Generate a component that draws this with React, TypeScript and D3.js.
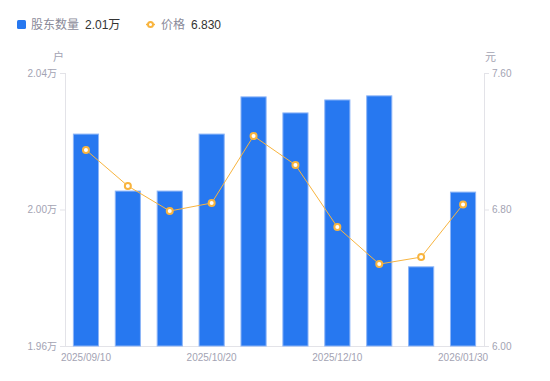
import React from "react";
import * as d3 from "d3";

const categories = [
  "2025/09/10", "2025/09/19", "2025/09/30", "2025/10/20", "2025/10/31",
  "2025/11/20", "2025/12/10", "2025/12/31", "2026/01/20", "2026/01/30",
];
const holders = [2.0221, 2.0054, 2.0054, 2.0221, 2.0330, 2.0283, 2.0321, 2.0333, 1.9832, 2.0051];
const prices = [7.149, 6.938, 6.791, 6.838, 7.231, 7.061, 6.697, 6.480, 6.521, 6.830];
const leftTicks = [1.96, 2.0, 2.04];
const rightTicks = [6.0, 6.8, 7.6];
const shownLabels = ["2025/09/10", "2025/10/20", "2025/12/10", "2026/01/30"];

const W = 550, H = 381;
const M = { left: 65, right: 484, top: 73, bottom: 346 };
const FONT = "'Liberation Sans', Arial, 'Noto Sans CJK SC', sans-serif";
const AXIS = "#e3e3e8";
const TXT = "#a3a3b3";
const BLUE = "#2778f0";
const ORANGE = "#f8b43e";

export default function App() {
  const x = d3.scaleBand<string>().domain(categories).range([M.left, M.right]).paddingInner(0.4).paddingOuter(0.2);
  const yL = d3.scaleLinear().domain([1.96, 2.04]).range([M.bottom, M.top]);
  const yR = d3.scaleLinear().domain([6.0, 7.6]).range([M.bottom, M.top]);
  const cx = (c: string) => (x(c) as number) + x.bandwidth() / 2;
  const line = d3.line<number>().x((_, i) => cx(categories[i])).y((d) => yR(d));

  return (
    <svg width={W} height={H} style={{ position: "absolute", left: 0, top: 0, fontFamily: FONT }}>
      {/* legend */}
      <rect x={17} y={20} width={9} height={9} rx={1.5} fill={BLUE} />
      <text x={31} y={29} fontSize={12} fill="#8a8a99">股东数量</text>
      <text x={85} y={29} fontSize={12} fill="#333">2.01万</text>
      <line x1={146} x2={155} y1={24.5} y2={24.5} stroke={ORANGE} strokeWidth={1.5} />
      <circle cx={150.5} cy={24.5} r={2.5} fill="#fff" stroke={ORANGE} strokeWidth={2} />
      <text x={161} y={29} fontSize={12} fill="#8a8a99">价格</text>
      <text x={191} y={29} fontSize={12} fill="#333">{prices[prices.length - 1].toFixed(3)}</text>

      {/* units */}
      <text x={58.5} y={61} fontSize={11} fill={TXT} textAnchor="middle">户</text>
      <text x={490.5} y={61} fontSize={11} fill={TXT} textAnchor="middle">元</text>

      {/* axes */}
      <line x1={M.left + 0.5} x2={M.left + 0.5} y1={M.top} y2={M.bottom} stroke={AXIS} />
      <line x1={M.right + 0.5} x2={M.right + 0.5} y1={M.top} y2={M.bottom} stroke={AXIS} />
      <line x1={M.left} x2={M.right} y1={M.bottom + 0.5} y2={M.bottom + 0.5} stroke={AXIS} />
      {leftTicks.map((t) => (
        <g key={"l" + t}>
          <line x1={60} x2={M.left} y1={yL(t) + 0.5} y2={yL(t) + 0.5} stroke={AXIS} />
          <text x={57} y={yL(t) + 3.5} fontSize={10} fill={TXT} textAnchor="end">{t.toFixed(2)}万</text>
        </g>
      ))}
      {rightTicks.map((t) => (
        <g key={"r" + t}>
          <line x1={M.right} x2={M.right + 5} y1={yR(t) + 0.5} y2={yR(t) + 0.5} stroke={AXIS} />
          <text x={492} y={yR(t) + 3.5} fontSize={10} fill={TXT}>{t.toFixed(2)}</text>
        </g>
      ))}
      {shownLabels.map((c) => (
        <text key={c} x={cx(c)} y={361} fontSize={10} fill={TXT} textAnchor="middle">{c}</text>
      ))}

      {/* bars */}
      {holders.map((v, i) => (
        <rect key={i} x={x(categories[i]) as number} y={yL(v)} width={x.bandwidth()} height={M.bottom - yL(v)}
          fill={BLUE} stroke="#8db5f7" strokeWidth={1} />
      ))}

      {/* price line */}
      <path d={line(prices) || ""} fill="none" stroke={ORANGE} strokeWidth={1} />
      {prices.map((v, i) => (
        <circle key={i} cx={cx(categories[i])} cy={yR(v)} r={3} fill="#fff" stroke={ORANGE} strokeWidth={2} />
      ))}
    </svg>
  );
}
